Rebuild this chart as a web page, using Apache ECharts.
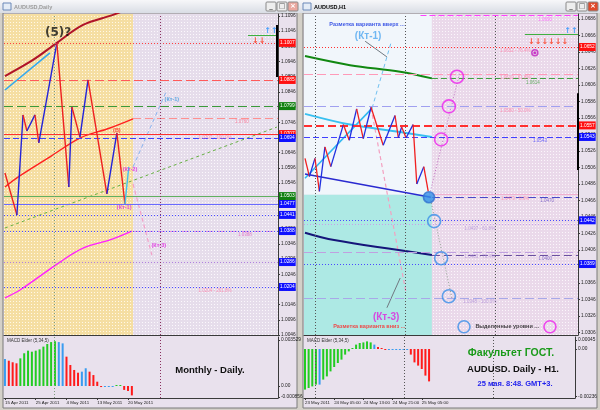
<!DOCTYPE html>
<html><head><meta charset="utf-8">
<script src="https://cdn.jsdelivr.net/npm/echarts@6/dist/echarts.min.js"></script>
<style>html,body{margin:0;padding:0;background:#d4d0c8}#c{width:600px;height:410px}</style>
</head><body><div id="c"></div><script>
// ===================== DATA : AUDUSD Daily (left window) =====================
const dailyDateLabels = ['15 Apr 2011','25 Apr 2011','4 May 2011','13 May 2011','20 May 2011'];
const dailyDateBars = [0, 8, 16, 24, 32];
const dailyPriceTicks = [1.0046,1.0096,1.0146,1.0196,1.0246,1.0296,1.0346,1.0396,1.0446,1.0496,1.0546,1.0596,1.0646,1.0696,1.0746,1.0796,1.0846,1.0896,1.0946,1.0996,1.1046,1.1096];
const dailySeparators = [12.7, 40.3];
const dailyNowBar = 33.3;
const dailyZigzag = [[0,1.0579],[3.1,1.0441],[4.7,1.0770],[5.7,1.0717],[7.8,1.0770],[8.8,1.0678],[13.5,1.1007],[16.6,1.0533],[17.4,1.0796],[19.5,1.0697],[21.6,1.0885],[26.5,1.0510],[29.1,1.0711],[31.2,1.0477]];
const dailyLastLeg = [[31.2,1.0477],[32.2,1.0599]];
const dailyMaDarkRed = [[0,1.0898],[7.3,1.0951],[13.5,1.1007],[20.3,1.1066],[28.1,1.1099],[33.3,1.1125]];
const dailyMaRed = [[0,1.0533],[3.1,1.0563],[11.7,1.0632],[19.5,1.0694],[27.3,1.0727],[33.3,1.0757]];
const dailyMaMagenta = [[0,1.0168],[3.9,1.0194],[14.3,1.0286],[20.3,1.0332],[27.3,1.0359],[33.0,1.0388]];
const dailyTrendBlue = [[0,1.0852],[11.7,1.0974]];
const dailyTrendGreen = [[0,1.0398],[70.7,1.0730]];
const dailyProjUp = [[33.3,1.0599],[42.1,1.0852]];
const dailyProjDown = [[33.3,1.0543],[38.2,1.0309]];
const dailyLevels = [1.1007,1.0885,1.0799,1.0707,1.0694,1.0503,1.0477,1.0441,1.0388,1.0286,1.0204];
const dailyMaProjLevels = [1.0760,1.0388];
const dailyBid = 1.0466;
const dailyRange = [1.1066,1.0895];
const dailySignalLevel = 1.1033;
const dailyFibText = [[1.0707,'100.0%'],[1.0204,'261.8%']];
const dailyMacd = [0.00207,0.00194,0.00182,0.00174,0.00212,0.00251,0.00271,0.00263,0.00271,0.00281,0.00302,0.00322,0.00337,0.00343,0.00337,0.00327,0.00225,0.00161,0.00123,0.00102,0.00110,0.00136,0.00110,0.00084,0.00033,-0.00008,-0.00004,-0.00003,-0.00002,0.00003,0.00005,-0.00030,-0.00038,-0.00072];
const dailyImpulse = ['n','d','d','d','u','u','u','u','u','u','u','u','u','u','n','n','d','d','d','d','n','n','d','d','d','d','n','n','n','u','u','d','d','d'];
const dailyMacdTicks = [0.003529, 0, -0.000856];
const dailyMacdTickLabels = ['0.003529','0.00','-0.000856'];

// ===================== DATA : AUDUSD H1 (right window) =====================
const hourlyDateLabels = ['23 May 2011','24 May 05:00','24 May 13:00','24 May 21:00','25 May 05:00'];
const hourlyDateBars = [0, 8, 16, 24, 32];
const hourlyPriceTicks = [1.0306,1.0326,1.0346,1.0366,1.0386,1.0406,1.0426,1.0446,1.0466,1.0486,1.0506,1.0526,1.0546,1.0566,1.0586,1.0606,1.0626,1.0646,1.0666,1.0686];
const hourlySeparators = [2.7, 27.1, 51.5];
const hourlyNowBar = 34.4;
const hourlyZoneSplit = 1.0473;
const hourlyZigzag = [[0,1.0517],[1.2,1.0495],[2.7,1.0517],[3.9,1.0477],[5.4,1.0531],[7.0,1.0507],[10.4,1.0558],[12.0,1.0539],[14.0,1.0577],[15.8,1.0541],[17.9,1.0579],[21.2,1.0533],[24.4,1.0569],[25.3,1.0542],[26.2,1.0555],[27.4,1.0542],[29.3,1.0558],[30.3,1.0486],[32.2,1.0507],[33.4,1.0477]];
const hourlyMaGreen = [[0,1.0641],[12.2,1.0630],[25.8,1.0622],[34.4,1.0614]];
const hourlyMaCyan = [[0,1.0571],[12.2,1.0558],[25.8,1.0549],[34.4,1.0543]];
const hourlyMaBlue = [[0,1.0498],[34.1,1.0470]];
const hourlyMaNavy = [[0,1.0427],[7.9,1.0418],[34.4,1.0400]];
const hourlyTrendCyan = [[0,1.0493],[18.2,1.0578]];
const hourlyProjUp = [[18.2,1.0578],[23.3,1.0657]];
const hourlyProjDown = [[17.9,1.0578],[27.4,1.0354]];
const hourlyPathUp = [[33.6,1.0470],[42.0,1.0622]];
const hourlyPathDown = [[33.9,1.0470],[39.8,1.0348]];
const hourlyLevels = [1.0652,1.0619,1.0580,1.0557,1.0543,1.0442,1.0437,1.0403,1.0389,1.0348];
const hourlyProjLevels = [1.0690,1.0614,1.0473,1.0470,1.0400];
const hourlyFibUpper = [1.0652,1.0619,1.0580,1.0473];
const hourlyFibUpperPct = ['76.4%','61.8%','50.0%','0.0%'];
const hourlyFibLower = [1.0437,1.0403,1.0348];
const hourlyFibLowerPct = ['61.8%','76.4%','100.0%'];
const hourlyUpCircles = [[41.2,1.0616],[39.0,1.0580],[36.9,1.0540]];
const hourlyDownCircles = [[35.0,1.0441],[36.9,1.0396],[39.0,1.0350]];
const hourlyNowPoint = [33.6,1.0470];
const hourlyBid = 1.0464;
const hourlyRange = [1.0596,1.0503];
const hourlySignalLevel = 1.0667;
const hourlyMacd = [-0.00203,-0.00195,-0.00187,-0.00178,-0.00178,-0.00153,-0.00137,-0.00112,-0.00090,-0.00070,-0.00053,-0.00028,-0.00012,0.00005,0.00022,0.00030,0.00033,0.00038,0.00033,0.00022,0.00010,0.00002,-0.00005,-0.00002,-0.00002,-0.00002,-0.00002,-0.00002,-0.00002,-0.00028,-0.00067,-0.00083,-0.00100,-0.00133,-0.00162];
const hourlyImpulse = ['u','u','u','u','n','u','u','u','u','u','u','u','u','u','u','u','u','u','u','n','d','d','d','n','n','n','n','n','n','d','d','d','d','d','d'];
const hourlyMacdTicks = [0.00045, 0, -0.00236];
const hourlyMacdTickLabels = ['0.00045','0.00','-0.00236'];

// ===================== RENDER =====================
const FONT = 'Liberation Sans';
const impulseColor = {u:'#22cc22', d:'#ff1a1a', n:'#3a9cf0'};
const AX = {
  dx:[-0.25,71], dy:[1.0046,1.1102], dm:[-0.00092,0.003758],
  hx:[-0.27,74], hy:[1.0303,1.0692], hm:[-0.00245,0.0006]
};
function dots(base, dot, step) {
  const c = document.createElement('canvas'); c.width = step; c.height = step;
  const g = c.getContext('2d'); g.fillStyle = base; g.fillRect(0,0,step,step);
  g.fillStyle = dot; g.fillRect(1,1,1,1);
  return {image:c, repeat:'repeat'};
}

function priceY(gi, mm, ticks, fmt) {
  return {type:'value', gridIndex:gi, position:'right', min:mm[0], max:mm[1], scale:true,
    splitLine:{show:false},
    axisLine:{show:true, onZero:false, lineStyle:{color:'#3a3a3a'}},
    axisTick:{show:true, customValues:ticks, length:2, lineStyle:{color:'#3a3a3a'}},
    axisLabel:{show:true, customValues:ticks, formatter:fmt, fontSize:4.8, fontFamily:FONT, color:'#222', margin:3}};
}
function timeX(gi, mm, bars, labels, show) {
  return {type:'value', gridIndex:gi, min:mm[0], max:mm[1],
    splitLine:{show:false},
    axisLine:{show:true, onZero:false, lineStyle:{color:'#3a3a3a'}},
    axisTick: show ? {show:true, customValues:bars, length:2, lineStyle:{color:'#3a3a3a'}} : {show:false},
    axisLabel: show ? {show:true, customValues:bars, formatter:(v)=>{const k=bars.indexOf(v);return k<0?'':labels[k];}, fontSize:4.4, fontFamily:FONT, color:'#222', align:'left', margin:3} : {show:false}};
}
function host(gi, pt, z, extra) {
  return Object.assign({type:'line', xAxisIndex:gi, yAxisIndex:gi, data:[pt], showSymbol:false, symbol:'none',
    lineStyle:{opacity:0}, silent:true, z:z, animation:false}, extra);
}
function tag(bg) {
  return {show:true, position:'end', distance:1, formatter:(p)=>Number(p.value).toFixed(4), backgroundColor:bg,
    color:'#fff', fontSize:4.8, fontFamily:FONT, padding:[1,1,1,1], lineHeight:6};
}
function lvl(v, c, t, w, tg) {
  return {yAxis:v, lineStyle:{color:c, type:t, width:w||1, opacity:1}, label: tg ? tag(tg) : {show:false}};
}
function vsep(x, c) { return {xAxis:x, lineStyle:{color:c, type:[1,2], width:1}, label:{show:false}}; }
function mline(data) { return {symbol:['none','none'], precision:4, silent:true, animation:false, data:data}; }
function segLines(gi, pairs, style, z) {
  return {type:'lines', coordinateSystem:'cartesian2d', xAxisIndex:gi, yAxisIndex:gi, polyline:false,
    data: pairs, lineStyle:Object.assign({width:1, opacity:1, curveness:0}, style), z:z||4, silent:true, animation:false};
}
function zig(pts, up, down) {
  const out=[];
  for (let i=0;i<pts.length-1;i++){const a=pts[i],b=pts[i+1];out.push({coords:[a,b], lineStyle:{color:b[1]>a[1]?up:down}});}
  return out;
}
function curve(gi, pts, color, width, type, smooth, z) {
  return {type:'line', xAxisIndex:gi, yAxisIndex:gi, data:pts, showSymbol:false, symbol:'none', smooth:smooth?0.35:false,
    lineStyle:{color, width, type:type||'solid'}, z:z||4, silent:true, animation:false};
}
function notes(gi, items) {
  return {type:'scatter', xAxisIndex:gi, yAxisIndex:gi, symbolSize:1, itemStyle:{color:'rgba(0,0,0,0)'}, z:8, silent:true, animation:false,
    data: items.map(it => ({value:[it.x,it.y], label:{show:true, position:'inside', formatter:it.t, fontFamily:it.f||FONT,
      fontSize:it.s||5, color:it.c, fontWeight:it.w||'normal', offset:it.o||[0,0]}}))};
}
function rings(gi, pts, color, size, fill) {
  return {type:'scatter', xAxisIndex:gi, yAxisIndex:gi, symbol:'circle', symbolSize:size, data:pts, z:9, silent:true, animation:false,
    itemStyle:{color:fill||'rgba(0,0,0,0)', borderColor:color, borderWidth:1.6}};
}
function macd(gi, vals, states) {
  return {type:'bar', xAxisIndex:gi, yAxisIndex:gi, barWidth:2, barMinHeight:1, silent:true, animation:false, z:3,
    data: vals.map((v,i)=>({value:[i,v], itemStyle:{color:impulseColor[states[i]]}}))};
}

const series = [];
// ---- backgrounds (time shading) ----
series.push(host(0,[AX.dx[0],AX.dy[0]],1,{markArea:{silent:true, animation:false, data:[
  [{xAxis:AX.dx[0], itemStyle:{color:dots('#f5dea2','#fff8e6',3)}},{xAxis:dailyNowBar}],
  [{xAxis:dailyNowBar, itemStyle:{color:dots('#e6ddeb','#fbf8fc',3)}},{xAxis:AX.dx[1]}]]}}));
series.push(host(2,[AX.hx[0],AX.hy[0]],1,{markArea:{silent:true, animation:false, data:[
  [{xAxis:AX.hx[0], yAxis:hourlyZoneSplit, itemStyle:{color:'#f1f6fb'}},{xAxis:hourlyNowBar, yAxis:AX.hy[1]}],
  [{xAxis:AX.hx[0], yAxis:AX.hy[0], itemStyle:{color:'#ade9e4'}},{xAxis:hourlyNowBar, yAxis:hourlyZoneSplit}],
  [{xAxis:hourlyNowBar, itemStyle:{color:dots('#ead9ea','#fbf6fb',3)}},{xAxis:AX.hx[1]}]]}}));

// ---- Daily levels + tags ----
const dStyles = [
  ['#ff4040',[1,2],1,'#ff1010'],['#ff5a5a',[9,4],1,'#ff1010'],['#3a9a3a',[9,4],1,'#108010'],
  ['#ff3030','solid',1,'#ff1010'],['#4040ff',[6,3],1,'#1010ff'],['#60b060','solid',1,'#108010'],
  ['#6a6aff','solid',1,'#1010ff'],['#4a4aff',[1,2],1,'#1010ff'],['#4a4aff',[1,2],1,'#1010ff'],
  ['#b080e0',[1,2],1,'#1010ff'],['#4a4aff',[1,2],1,'#1010ff']];
const dMark = dailyLevels.map((v,i)=>lvl(v,dStyles[i][0],dStyles[i][1],dStyles[i][2],dStyles[i][3]));
dMark.push({yAxis:dailyBid, lineStyle:{opacity:0}, label:tag('#000')});
dailySeparators.forEach((x,i)=>dMark.push(vsep(x, i===0?'#7d9a7d':'#8a3060')));
series.push(host(0,[AX.dx[0],AX.dy[0]],3,{markLine:mline(dMark)}));
series.push(host(1,[AX.dx[0],0],2,{markLine:mline(dailySeparators.map((x,i)=>vsep(x, i===0?'#7d9a7d':'#8a3060')))}));

// ---- Hourly levels + tags ----
const hStyles = [
  ['#ff3030',[1,2],1,'#ff1010'],['#ff9ab8',[9,4],1,null],['#a0a0f0',[9,4],1,null],
  ['#ff3030',[8,4],2,'#ff1010'],['#4040ff',[6,3],1,'#1010ff'],['#4a4aff',[1,2],1,'#1010ff'],
  ['#c8a0e8',[1,2],1,null],['#c0a0e0',[9,4],1,null],['#4a4aff',[1,2],1,'#1010ff'],['#a8a8e8',[9,4],1,null]];
const hMark = hourlyLevels.map((v,i)=>lvl(v,hStyles[i][0],hStyles[i][1],hStyles[i][2],hStyles[i][3]));
hMark.push({yAxis:hourlyBid, lineStyle:{opacity:0}, label:tag('#000')});
hourlySeparators.forEach(x=>hMark.push(vsep(x,'#555')));
series.push(host(2,[AX.hx[0],AX.hy[0]],3,{markLine:mline(hMark)}));
series.push(host(3,[AX.hx[0],0],2,{markLine:mline(hourlySeparators.map(x=>vsep(x,'#555')))}));

// ---- Daily drawings ----
series.push(segLines(0,[
  {coords:[[dailyNowBar,dailyMaProjLevels[0]],[AX.dx[1],dailyMaProjLevels[0]]], lineStyle:{color:'#ff9090', type:[8,4]}},
  {coords:[[dailyNowBar,dailyMaProjLevels[1]],[AX.dx[1],dailyMaProjLevels[1]]], lineStyle:{color:'#e890e0', type:[8,4]}},
  {coords:[[63.2,dailySignalLevel],[AX.dx[1],dailySignalLevel]], lineStyle:{color:'#40b040'}}
],{},3));
series.push(segLines(0,[{coords:dailyTrendGreen}],{color:'#66b044', type:[3,3]},3));
series.push(segLines(0,[{coords:dailyProjUp}],{color:'#8ab4f0', type:[4,3]},3));
series.push(segLines(0,[{coords:dailyProjDown}],{color:'#f4a0c8', type:[4,3], width:1.2},3));
series.push(curve(0,dailyMaDarkRed,'#b01428',2,'solid',true));
series.push(curve(0,dailyMaRed,'#ff2020',1.4,'solid',true));
series.push(curve(0,dailyMaMagenta,'#ff20ff',1.4,'solid',true));
series.push(segLines(0,[{coords:dailyTrendBlue}],{color:'#30a8f0', width:1.6},4));
series.push(segLines(0,zig(dailyZigzag,'#2424d8','#ee2020'),{width:1.4},5));
series.push(segLines(0,[{coords:dailyLastLeg}],{color:'#40c0f0', width:1.4},5));
series.push(segLines(0,[{coords:[[70.8,dailyRange[0]],[70.8,dailyRange[1]]]}],{color:'#000', width:2},6));
series.push(notes(0,[
  {x:13.8,y:1.1040,t:'(5)?',s:12,w:'bold',c:'#111',f:'DejaVu Sans'},
  {x:43.4,y:1.0822,t:'(Кт-1)',s:5.5,w:'bold',c:'#3a9ae0'},
  {x:29.1,y:1.0720,t:'(B)',s:5.5,w:'bold',c:'#ff2020'},
  {x:32.5,y:1.0592,t:'(Кт-2)',s:5.5,w:'bold',c:'#e020e0'},
  {x:31.0,y:1.0464,t:'(Кт-1)',s:5.5,w:'bold',c:'#e020e0'},
  {x:40.0,y:1.0342,t:'(Кт-3)',s:5.5,w:'bold',c:'#e020e0'},
  {x:61.6,y:dailyMaProjLevels[0],t:dailyMaProjLevels[0].toFixed(4),s:4.5,c:'#ff7090',o:[0,4]},
  {x:62.4,y:dailyMaProjLevels[1],t:dailyMaProjLevels[1].toFixed(4),s:4.5,c:'#e060c0',o:[0,4]},
  {x:54.6,y:dailyFibText[0][0],t:dailyFibText[0][0].toFixed(4)+' - '+dailyFibText[0][1],s:4.5,c:'#ff80a8',o:[0,4]},
  {x:54.6,y:dailyFibText[1][0],t:dailyFibText[1][0].toFixed(4)+' - '+dailyFibText[1][1],s:4.5,c:'#ff80a8',o:[0,4]},
  {x:69.2,y:dailySignalLevel,t:'↑↑',s:8,w:'bold',c:'#2090ff',f:'DejaVu Sans',o:[0,-4]},
  {x:66.0,y:dailySignalLevel,t:'↓↓',s:8,w:'bold',c:'#ff3010',f:'DejaVu Sans',o:[0,6]}
]));

// ---- Hourly drawings ----
const hp = [];
hp.push({coords:[[31.3,hourlyProjLevels[0]],[AX.hx[1],hourlyProjLevels[0]]], lineStyle:{color:'#ff40ff', type:[6,3]}});
hp.push({coords:[[hourlyNowBar,hourlyProjLevels[1]],[AX.hx[1],hourlyProjLevels[1]]], lineStyle:{color:'#40a040', type:[6,3]}});
hp.push({coords:[[hourlyNowBar,hourlyProjLevels[2]],[AX.hx[1],hourlyProjLevels[2]]], lineStyle:{color:'#f0b0d0'}});
hp.push({coords:[[hourlyNowBar,hourlyProjLevels[3]],[AX.hx[1],hourlyProjLevels[3]]], lineStyle:{color:'#4848c8', type:[8,4]}});
hp.push({coords:[[hourlyNowBar,hourlyProjLevels[4]],[AX.hx[1],hourlyProjLevels[4]]], lineStyle:{color:'#6a50a0', type:[8,4]}});
hp.push({coords:[[59.6,hourlySignalLevel],[AX.hx[1],hourlySignalLevel]], lineStyle:{color:'#40b040'}});
series.push(segLines(2,hp,{},3));
series.push(segLines(2,[{coords:hourlyPathUp}],{color:'#c070c0', type:[1,2]},4));
series.push(segLines(2,[{coords:hourlyPathDown}],{color:'#90a090', type:[1,2]},4));
series.push(segLines(2,[{coords:hourlyProjUp}],{color:'#70c0f0', type:[4,3]},4));
series.push(segLines(2,[{coords:hourlyProjDown}],{color:'#f4a0c0', type:[4,3], width:1.2},4));
series.push(segLines(2,[{coords:[[22.2,1.0640],[16.3,1.0659]]},{coords:[[25.8,1.0372],[22.2,1.0336]]}],{color:'#707880'},4));
series.push(curve(2,hourlyMaGreen,'#118811',2,'solid',true));
series.push(curve(2,hourlyMaCyan,'#38c0f0',2,'solid',true));
series.push(curve(2,hourlyMaBlue,'#2a2ad0',1.5,'solid',false));
series.push(curve(2,hourlyMaNavy,'#15157a',2,'solid',true));
series.push(segLines(2,[{coords:hourlyTrendCyan}],{color:'#30b8f0', width:1.6},4));
series.push(segLines(2,zig(hourlyZigzag,'#2030e0','#f02020'),{width:1.3},5));
series.push(segLines(2,[{coords:[[73.8,hourlyRange[0]],[73.8,hourlyRange[1]]]}],{color:'#000', width:2},6));
series.push(rings(2,hourlyUpCircles,'#ee22ee',13));
series.push(rings(2,hourlyDownCircles,'#3a8ee8',13));
series.push(rings(2,[hourlyNowPoint],'#3070d0',11,'#3a8ee8'));
series.push(rings(2,[[43.1,1.0313]],'#3a8ee8',12));
series.push(rings(2,[[66.4,1.0313]],'#ee22ee',12));
series.push(rings(2,[[62.3,1.0645]],'#c020c0',6));
series.push(rings(2,[[62.3,1.0645]],'#c020c0',1.5,'#c020c0'));
const hn = [
  {x:16.8,y:1.0679,t:'Разметка варианта вверх ...',s:5.5,w:'bold',c:'#1030e0'},
  {x:17.1,y:1.0665,t:'(Кт-1)',s:10,w:'bold',c:'#50a8f0'},
  {x:22.0,y:1.0324,t:'(Кт-3)',s:10,w:'bold',c:'#e020e0'},
  {x:17.4,y:1.0313,t:'Разметка варианта вниз ...',s:5.5,w:'bold',c:'#ff2020'},
  {x:54.8,y:1.0313,t:'Выделенные уровни ...',s:5.5,w:'bold',c:'#111'},
  {x:72.1,y:hourlySignalLevel,t:'↑↑',s:8,w:'bold',c:'#2090ff',f:'DejaVu Sans',o:[0,-4]},
  {x:65.9,y:hourlySignalLevel,t:'↓↓↓↓↓↓',s:8,w:'bold',c:'#ff3010',f:'DejaVu Sans',o:[0,7]},
  {x:65.1,y:hourlyProjLevels[0],t:hourlyProjLevels[0].toFixed(4),s:4.5,c:'#ff60ff',o:[0,4]},
  {x:61.8,y:hourlyProjLevels[1],t:hourlyProjLevels[1].toFixed(4),s:4.5,c:'#40a040',o:[0,4]},
  {x:65.6,y:hourlyProjLevels[3],t:hourlyProjLevels[3].toFixed(4),s:4.5,c:'#6a50c0',o:[0,4]},
  {x:65.1,y:hourlyProjLevels[4],t:hourlyProjLevels[4].toFixed(4),s:4.5,c:'#6a50c0',o:[0,4]},
  {x:63.7,y:hourlyLevels[4],t:hourlyLevels[4].toFixed(4),s:4.5,c:'#4848ff',o:[0,4]}
];
hourlyFibUpper.forEach((v,i)=>hn.push({x:57,y:v,t:v.toFixed(4)+' - '+hourlyFibUpperPct[i],s:4.5,c:'#ff80a8',o:[0,4]}));
hourlyFibLower.forEach((v,i)=>hn.push({x:47.4,y:v,t:v.toFixed(4)+' - '+hourlyFibLowerPct[i],s:4.5,c:'#b090d8',o:[0,4]}));
series.push(notes(2,hn));

// ---- MACD ----
series.push(macd(1,dailyMacd,dailyImpulse));
series.push(macd(3,hourlyMacd,hourlyImpulse));

// ---- window chrome ----
function win(x0, title, active) {
  const g = [
    {type:'rect', shape:{x:x0+3,y:13,width:294,height:395}, style:{fill:'#e9e1ed', stroke:'#7a7a7a', lineWidth:1}, z:-10, silent:true},
    {type:'rect', shape:{x:x0,y:0,width:300,height:13}, style:{fill:{type:'linear',x:0,y:0,x2:0,y2:1,colorStops:[{offset:0,color:'#f7f7f9'},{offset:1,color:'#d9dde5'}]}}, z:10, silent:true},
    {type:'rect', shape:{x:x0+3,y:3,width:8,height:7}, style:{fill:'#e4ecf6', stroke:'#6a88b8'}, z:11, silent:true},
    {type:'text', style:{x:x0+14,y:7,text:title, fill:active?'#000':'#9a9a9a', font:'bold 5.5px "Liberation Sans"', verticalAlign:'middle'}, z:11, silent:true}
  ];
  [266,277,288].forEach((bx,i)=>{
    const close = i===2;
    g.push({type:'rect', shape:{x:x0+bx,y:2,width:10,height:9,r:1}, style:{fill: close ? (active?'#e04a2c':'#eaa8a0') : '#eeeeee', stroke:'#8a8a8a'}, z:11, silent:true});
    g.push({type:'text', style:{x:x0+bx+5,y:6.5,text:['_','□','×'][i], fill: close?'#fff':'#555', font:'bold 7px "DejaVu Sans"', align:'center', verticalAlign:'middle'}, z:12, silent:true});
  });
  return g;
}
const graphic = [].concat(win(0,'AUDUSD,Daily',false), win(300,'AUDUSD,H1',true), [
  {type:'text', style:{x:7,y:341,text:'MACD Elder (5,34,5)', fill:'#333', font:'4.5px "Liberation Sans"', verticalAlign:'middle'}, z:12, silent:true},
  {type:'text', style:{x:307,y:341,text:'MACD Elder (5,34,5)', fill:'#333', font:'4.5px "Liberation Sans"', verticalAlign:'middle'}, z:12, silent:true},
  {type:'text', style:{x:210,y:370,text:'Monthly - Daily.', fill:'#111', font:'bold 9.5px "Liberation Sans"', align:'center', verticalAlign:'middle'}, z:12, silent:true},
  {type:'text', style:{x:511,y:353,text:'Факультет ГОСТ.', fill:'#1a9a1a', font:'bold 10.5px "Liberation Sans"', align:'center', verticalAlign:'middle'}, z:12, silent:true},
  {type:'text', style:{x:513,y:369,text:'AUDUSD. Daily - H1.', fill:'#111', font:'bold 9.5px "Liberation Sans"', align:'center', verticalAlign:'middle'}, z:12, silent:true},
  {type:'text', style:{x:515,y:384,text:'25 мая. 8:48. GMT+3.', fill:'#2222ee', font:'bold 7.5px "Liberation Sans"', align:'center', verticalAlign:'middle'}, z:12, silent:true}
]);

const option = {
  animation:false,
  backgroundColor:'#d4d0c8',
  grid:[
    {left:4, top:14, width:274, height:321},
    {left:4, top:337, width:274, height:61},
    {left:304, top:14, width:274, height:321},
    {left:304, top:337, width:274, height:61}
  ],
  xAxis:[
    timeX(0,AX.dx,dailyDateBars,dailyDateLabels,false),
    timeX(1,AX.dx,dailyDateBars,dailyDateLabels,true),
    timeX(2,AX.hx,hourlyDateBars,hourlyDateLabels,false),
    timeX(3,AX.hx,hourlyDateBars,hourlyDateLabels,true)
  ],
  yAxis:[
    priceY(0,AX.dy,dailyPriceTicks,v=>v.toFixed(4)),
    priceY(1,AX.dm,dailyMacdTicks,v=>dailyMacdTickLabels[dailyMacdTicks.indexOf(v)]||''),
    priceY(2,AX.hy,hourlyPriceTicks,v=>v.toFixed(4)),
    priceY(3,AX.hm,hourlyMacdTicks,v=>hourlyMacdTickLabels[hourlyMacdTicks.indexOf(v)]||'')
  ],
  graphic: graphic,
  series: series
};
const chart = echarts.init(document.getElementById('c'), null, {renderer:'canvas', width:600, height:410});
chart.setOption(option);
</script></body></html>
